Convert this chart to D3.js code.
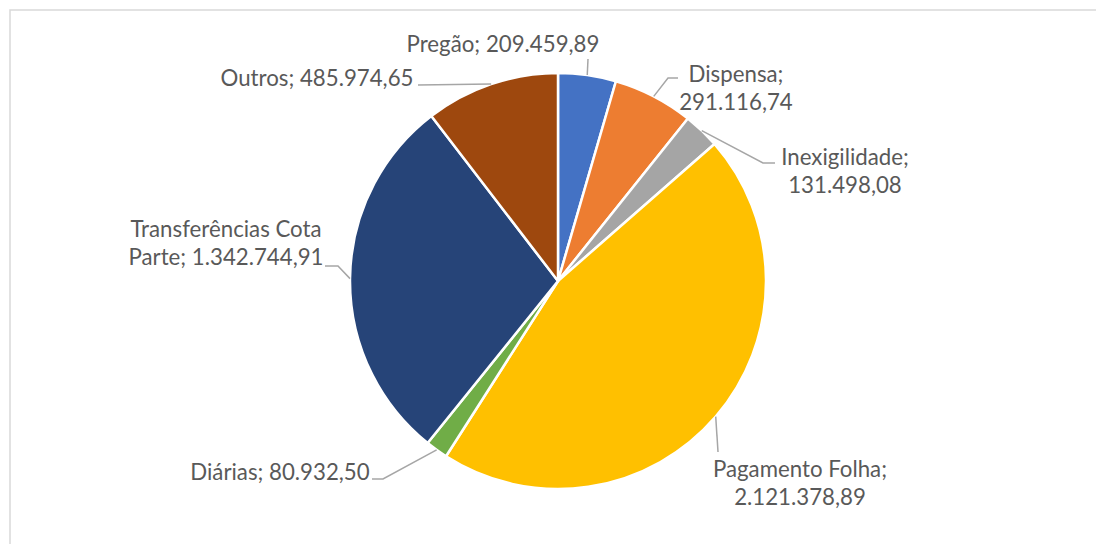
<!DOCTYPE html>
<html>
<head>
<meta charset="utf-8">
<script src="https://cdn.jsdelivr.net/npm/d3@7"></script>
<style>
html,body{margin:0;padding:0;background:#fff;}
svg{display:block;}
</style>
</head>
<body>
<svg id="chart" width="1096" height="544"></svg>
<script>
const categories = ["Pregão","Dispensa","Inexigilidade","Pagamento Folha","Diárias","Transferências Cota Parte","Outros"];
const values = [209459.89, 291116.74, 131498.08, 2121378.89, 80932.50, 1342744.91, 485974.65];
const valueLabels = ["209.459,89","291.116,74","131.498,08","2.121.378,89","80.932,50","1.342.744,91","485.974,65"];
const colors = ["#4472C4","#ED7D31","#A5A5A5","#FFC000","#70AD47","#264478","#9E480E"];

// label layout: text lines, text center x, first baseline y, leader path points after the arc point
const labelLayout = [
  {lines:["Pregão; 209.459,89"], x:503, y:52, pts:[[588,59]]},
  {lines:["Dispensa;","291.116,74"], x:736, y:82, pts:[[668,78],[678,78]]},
  {lines:["Inexigilidade;","131.498,08"], x:845, y:165, pts:[[763,163],[775,163]]},
  {lines:["Pagamento Folha;","2.121.378,89"], x:800, y:477, pts:[[718,452]]},
  {lines:["Diárias; 80.932,50"], x:280, y:480, pts:[[383,479],[372,479]]},
  {lines:["Transferências Cota","Parte; 1.342.744,91"], x:226, y:237, pts:[[338,266],[325,266]]},
  {lines:["Outros; 485.974,65"], x:317, y:86, pts:[[418,85]]}
];

const W = 1096, H = 544;
const cx = 558, cy = 281, R = 208;
const svg = d3.select("#chart");

svg.append("rect").attr("x",10).attr("y",10).attr("width",W).attr("height",H)
  .attr("fill","#fff").attr("stroke","#d9d9d9").attr("stroke-width",1.5);

const data = categories.map((c,i)=>({name:c, value:values[i], color:colors[i], label:valueLabels[i], layout:labelLayout[i]}));
const pie = d3.pie().value(d=>d.value).sort(null);
const arcs = pie(data);
const arc = d3.arc().innerRadius(0).outerRadius(R);

const g = svg.append("g").attr("transform",`translate(${cx},${cy})`);
g.selectAll("path.slice").data(arcs).enter().append("path")
  .attr("class","slice")
  .attr("d",arc)
  .attr("fill",d=>d.data.color)
  .attr("stroke","#fff").attr("stroke-width",2.5).attr("stroke-linejoin","round");

// leader lines
const line = d3.line();
svg.selectAll("path.leader").data(arcs).enter().append("path")
  .attr("class","leader")
  .attr("d",d=>{
    const a = (d.startAngle+d.endAngle)/2;
    const p0 = [cx + R*Math.sin(a), cy - R*Math.cos(a)];
    return line([p0, ...d.data.layout.pts]);
  })
  .attr("fill","none").attr("stroke","#a6a6a6").attr("stroke-width",1.5);

// labels
const fontFamily = "Lato, 'Open Sans', sans-serif";
const labelsG = svg.append("g");
const probe = labelsG.append("text").attr("font-family",fontFamily).attr("font-size",20).text(labelLayout[0].lines[0]);
const w20 = probe.node().getComputedTextLength();
probe.remove();
const fs = Math.max(14, Math.min(24, 20*193/w20));
const lh = 27.5;

arcs.forEach(d=>{
  const L = d.data.layout;
  const t = labelsG.append("text")
    .attr("font-family",fontFamily).attr("font-size",fs)
    .attr("fill","#595959").attr("text-anchor","middle");
  L.lines.forEach((ln,i)=>{
    t.append("tspan").attr("x",L.x).attr("y",L.y + i*lh).text(ln);
  });
});
</script>
</body>
</html>
